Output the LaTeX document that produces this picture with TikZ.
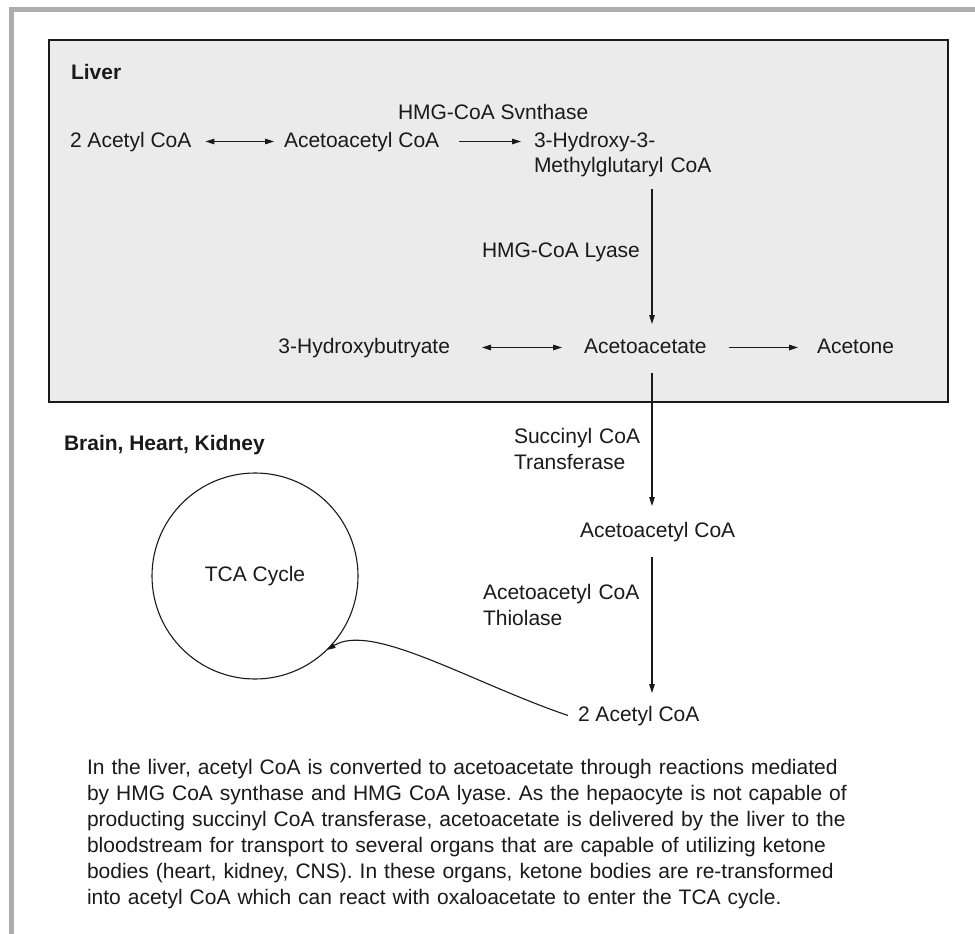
\documentclass[tikz,border=0pt]{standalone}
\usepackage{fontspec}
\setmainfont{Liberation Sans}
\usetikzlibrary{arrows.meta}
\definecolor{framegray}{HTML}{ADADAD}
\definecolor{liverfill}{HTML}{EBEBEB}
\definecolor{ink}{HTML}{1A1A1A}
\frenchspacing
\begin{document}
\begin{tikzpicture}[x=1pt,y=-1pt,
  every node/.style={inner sep=0pt, outer sep=0pt, text=ink},
  lbl/.style={anchor=base west, font=\fontsize{21}{25}\selectfont, text height=15pt, text depth=4pt},
  mlbl/.style={anchor=base west, font=\fontsize{21}{26}\selectfont, text width=220pt, align=left},
  ttl/.style={anchor=base west, font=\fontsize{21}{25}\selectfont\bfseries},
  tip/.tip={Triangle[length=9pt,width=5.5pt]},
  arr/.style={draw=ink, line width=1.1pt, -tip},
  dbl/.style={draw=ink, line width=1.1pt, tip-tip},
]
\useasboundingbox (0,0) rectangle (975,934);
\fill[white] (0,0) rectangle (975,934);
% page frame
\fill[framegray] (9,7) rectangle (975,12);
\fill[framegray] (9,7) rectangle (14,934);
% liver compartment
\draw[fill=liverfill, draw=ink, line width=1.2pt] (49,40) rectangle (948,402);

% column of the vertical pathway
\coordinate (col) at (652,0);

% liver reactions
\node[ttl] (liver) at (71,80) {Liver};
\node[lbl] (a1) at (70,147) {2 Acetyl CoA};
\node[lbl] (aac1) at (284,147) {Acetoacetyl CoA};
\node[lbl] (hmgs) at (398,119) {HMG-CoA Svnthase};
\node[mlbl, font=\fontsize{21}{25}\selectfont] (hmg) at (534,147) {3-Hydroxy-3-\\Methylglutaryl CoA};
\node[lbl] (hmgl) at (482,257) {HMG-CoA Lyase};
\node[lbl, anchor=base east] (hb) at (450,353) {3-Hydroxybutryate};
\node[lbl] (aa) at (584,353) {Acetoacetate};
\node[lbl] (ac) at (817,353) {Acetone};

\draw[dbl] ([xshift=14pt]a1.east) -- ([xshift=-10pt]aac1.west);
\draw[arr] ([xshift=20pt]aac1.east) -- ([xshift=-13pt,yshift=5.5pt]hmg.base west);
\draw[arr] ([yshift=-42pt]hmg.base west -| col) -- ([yshift=14pt]aa.north -| col);
\draw[dbl] ([xshift=32pt]hb.east) -- ([xshift=-22pt]aa.west);
\draw[arr] ([xshift=22pt]aa.east) -- ([xshift=-19pt]ac.west);

% peripheral tissues
\node[ttl] (bhk) at (64,450) {Brain, Heart, Kidney};
\node[mlbl] (sct) at (514,443) {Succinyl CoA\\Transferase};
\node[lbl] (aac2) at (580,537) {Acetoacetyl CoA};
\node[mlbl] (act) at (483,599) {Acetoacetyl CoA\\Thiolase};
\node[lbl] (a2) at (578,721) {2 Acetyl CoA};
\node[circle, draw=ink, line width=1.1pt, minimum size=206pt,
      font=\fontsize{21}{25}\selectfont] (tca) at (255,576) {TCA Cycle};

\draw[arr] ([yshift=-16pt]aa.south -| col) -- ([yshift=16pt]aac2.north -| col);
\draw[arr] ([yshift=-16pt]aac2.south -| col) -- ([yshift=13pt]a2.north -| col);
\draw[arr] ([xshift=-10pt]a2.west) .. controls (470,682) and (372,622) .. (tca.-46);

% explanatory text
\node[anchor=base west, text width=880pt, align=left,
      font=\fontsize{21}{26}\selectfont] (para) at (87,774)
  {In the liver, acetyl CoA is converted to acetoacetate through reactions mediated\\
   by HMG CoA synthase and HMG CoA lyase. As the hepaocyte is not capable of\\
   producting succinyl CoA transferase, acetoacetate is delivered by the liver to the\\
   bloodstream for transport to several organs that are capable of utilizing ketone\\
   bodies (heart, kidney, CNS). In these organs, ketone bodies are re-transformed\\
   into acetyl CoA which can react with oxaloacetate to enter the TCA cycle.};
\end{tikzpicture}
\end{document}
